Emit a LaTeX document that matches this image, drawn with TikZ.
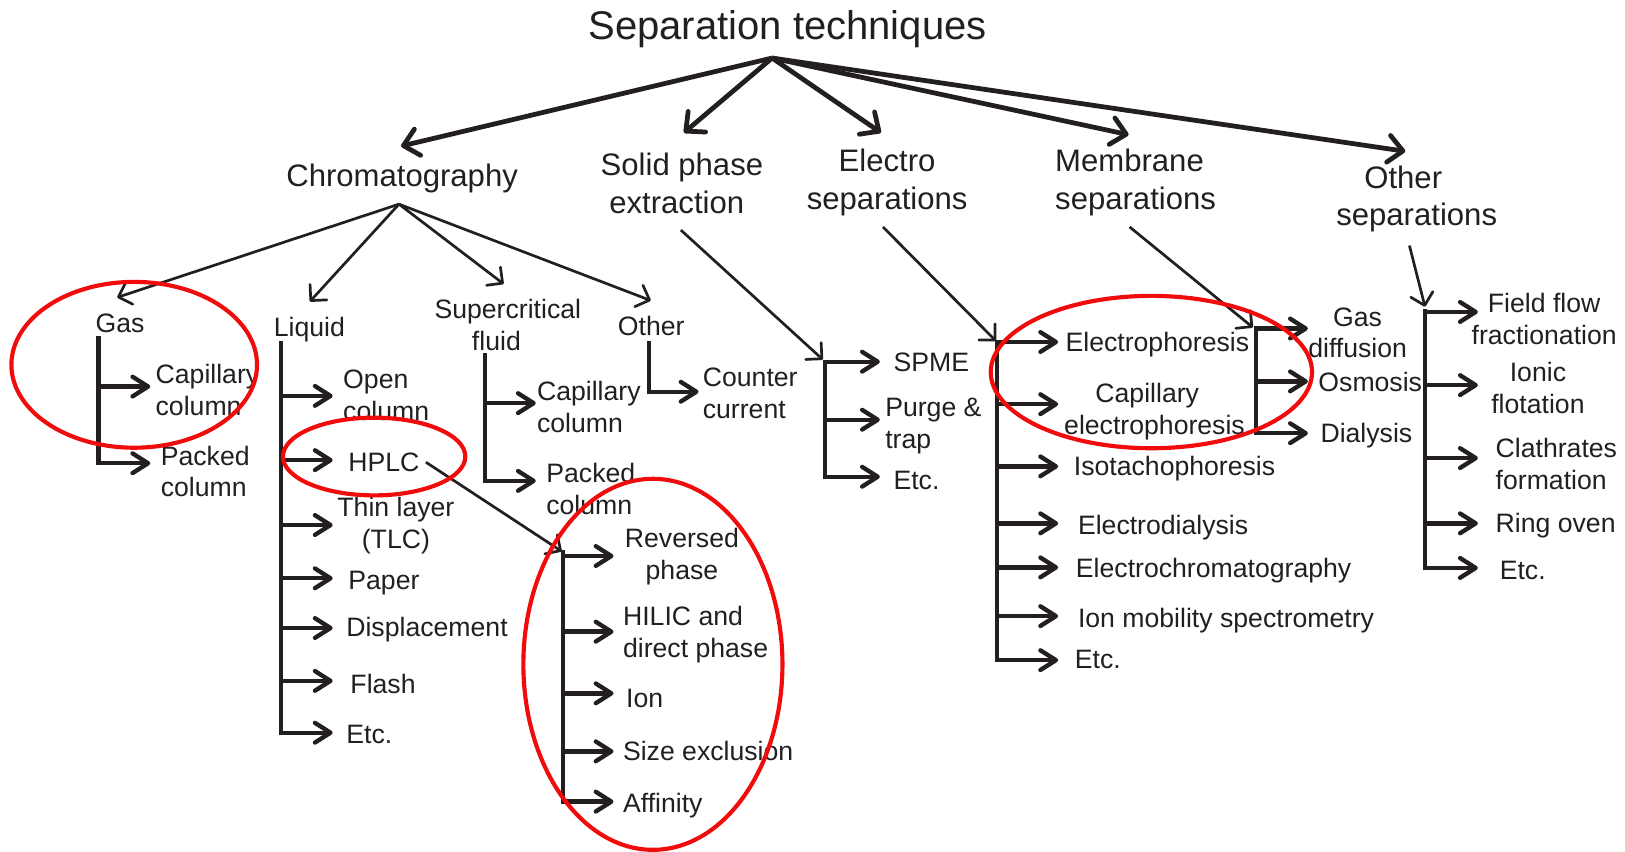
\documentclass[tikz,border=0pt]{standalone}
\usepackage{fontspec}
\setmainfont{Liberation Sans}
\usetikzlibrary{arrows.meta}
\definecolor{inkc}{RGB}{35,31,32}
\definecolor{hlred}{RGB}{240,12,12}
\newcommand\brk{\strut\\}
\begin{document}
\begin{tikzpicture}[x=1pt,y=-1pt,
  every node/.style={inner sep=0pt, text=inkc},
  big/.style={font=\fontsize{38.6}{46}\selectfont},
  midc/.style={font=\fontsize{30}{36.5}\selectfont, align=center},
  midl/.style={font=\fontsize{30}{36.5}\selectfont, align=left, anchor=west},
  sm/.style={font=\fontsize{25.7}{30.7}\selectfont, align=left, anchor=west},
  smc/.style={font=\fontsize{25.7}{30.7}\selectfont, align=center},
  toparrow/.style={draw=inkc, line width=4.6pt, -{Straight Barb[length=14pt,width=26pt,round]}},
  thinarrow/.style={draw=inkc, line width=2.6pt, -{Straight Barb[length=11pt,width=22pt,round]}},
  spine/.style={draw=inkc, line width=4.2pt, line cap=rect},
  branch/.style={draw=inkc, line width=4.2pt, -{Straight Barb[length=15pt,width=19pt,round]}},
  ring/.style={draw=hlred, line width=4pt}
]
\useasboundingbox (0,0) rectangle (1568,822);

% ---------- level 0/1 ----------
\node[big, anchor=base] (title) at (760,38) {Separation techniques};
\coordinate (root) at (745,56);
\node[midc] (chrom) at (388,172.5) {Chromatography\strut};
\node[midc] (spe) at (658,180.5) {Solid phase\brk extraction\hspace*{10pt}\strut};
\node[midc] (elec) at (856,176.5) {Electro\brk separations\strut};
\node[midl] (memb) at (1018,176.5) {Membrane\brk separations\strut};
\node[midc] (oth) at (1367,192.5) {Other\hspace*{26pt}\brk separations\strut};

\coordinate (tChrom) at (387,141);
\coordinate (tSpe) at (660,128);
\coordinate (tElec) at (850,128);
\coordinate (tMemb) at (1089,130);
\coordinate (tOth) at (1356,146);
\draw[toparrow] (root) -- (tChrom);
\draw[toparrow] (root) -- (tSpe);
\draw[toparrow] (root) -- (tElec);
\draw[toparrow] (root) -- (tMemb);
\draw[toparrow] (root) -- (tOth);

% ---------- chromatography ----------
\coordinate (hub) at (385,197);
\coordinate (tGas) at (113,287);
\coordinate (tLiq) at (299,291);
\coordinate (tSfc) at (486,274);
\coordinate (tCo) at (628,290);
\draw[thinarrow] (hub) -- (tGas);
\draw[thinarrow] (hub) -- (tLiq);
\draw[thinarrow] (hub) -- (tSfc);
\draw[thinarrow] (hub) -- (tCo);

\node[sm] (gas) at (92,315) {Gas\strut};
\node[sm] (liq) at (264,319) {Liquid\strut};
\node[smc] (sfc) at (490,317) {Supercritical\brk fluid\hspace*{22pt}\strut};
\node[sm] (cother) at (596,318) {Other\strut};

% gas
\node[sm] (gcap) at (150,379) {Capillary\brk column\strut};
\node[sm] (gpack) at (155,458) {Packed\brk column\strut};
\coordinate (gT) at (95,326);
\coordinate (gB) at (95,447);
\coordinate (g1) at (145,373);
\coordinate (g2) at (145,447);
\draw[spine] (gT) -- (gB);
\draw[branch] (gT |- g1) -- (g1);
\draw[branch] (gT |- g2) -- (g2);

% liquid
\node[sm] (lopen) at (331,384) {Open\brk column\strut};
\node[sm] (hplc) at (336,449) {HPLC\strut};
\node[smc] (tlc) at (382,508) {Thin layer\brk (TLC)\strut};
\node[sm] (paper) at (336,563) {Paper\strut};
\node[sm] (displ) at (334,608) {Displacement\strut};
\node[sm] (flash) at (338,663) {Flash\strut};
\node[sm] (letc) at (334,711) {Etc.\strut};
\coordinate (lT) at (271,331);
\coordinate (lB) at (271,707);
\draw[spine] (lT) -- (lB);
\foreach \yy/\nm in {382/l1,444/l2,506.6/l3,558/l4,606/l5,657/l6,707/l7}{
  \coordinate (\nm) at (321,\yy);
  \draw[branch] (lT |- \nm) -- (\nm);
}

% supercritical
\node[sm] (scap) at (518,395.5) {Capillary\brk column\strut};
\node[sm] (spack) at (527,475) {Packed\brk column\strut};
\coordinate (sT) at (468,343);
\coordinate (sB) at (468,464);
\draw[spine] (sT) -- (sB);
\foreach \yy/\nm in {389/s1,464/s2}{
  \coordinate (\nm) at (517,\yy);
  \draw[branch] (sT |- \nm) -- (\nm);
}

% other (chromatography)
\node[sm] (counter) at (678,382.5) {Counter\brk current\strut};
\coordinate (coT) at (626,331);
\coordinate (coB) at (626,378);
\coordinate (co1) at (674,378);
\draw[spine] (coT) -- (coB);
\draw[branch] (coB) -- (co1);

% HPLC subtree
\coordinate (hpS) at (411,446);
\coordinate (hpE) at (542,532);
\draw[thinarrow] (hpS) -- (hpE);
\node[smc] (rev) at (658,537.7) {Reversed\brk phase\strut};
\node[sm] (hilic) at (601,613) {HILIC and\brk direct phase\strut};
\node[sm] (ion) at (604,676.6) {Ion\strut};
\node[sm] (size) at (601,728) {Size exclusion\strut};
\node[sm] (aff) at (601,777.5) {Affinity\strut};
\coordinate (hT) at (543.5,533);
\coordinate (hB) at (543.5,773.5);
\draw[spine] (hT) -- (hB);
\foreach \yy/\nm in {536.5/h1,609.5/h2,669/h3,725/h4,773.5/h5}{
  \coordinate (\nm) at (592,\yy);
  \draw[branch] (hT |- \nm) -- (\nm);
}

% ---------- solid phase extraction ----------
\coordinate (speS) at (657,222);
\coordinate (speE) at (794,347);
\draw[thinarrow] (speS) -- (speE);
\node[sm] (spme) at (862,352) {SPME\strut};
\node[sm] (purge) at (854,411.5) {Purge \&\brk trap\strut};
\node[sm] (spetc) at (862,466) {Etc.\strut};
\coordinate (pT) at (796,349);
\coordinate (pB) at (796,460);
\draw[spine] (pT) -- (pB);
\foreach \yy/\nm in {349/p1,405/p2,460/p3}{
  \coordinate (\nm) at (849,\yy);
  \draw[branch] (pT |- \nm) -- (\nm);
}

% ---------- electro ----------
\coordinate (elS) at (852,219);
\coordinate (elE) at (961,329);
\draw[thinarrow] (elS) -- (elE);
\node[sm] (ep) at (1028,333) {Electrophoresis\strut};
\node[smc] (cep) at (1114,397.8) {Capillary\hspace*{14pt}\brk electrophoresis\strut};
\node[sm] (itp) at (1036,453) {Isotachophoresis\strut};
\node[sm] (edial) at (1040,509.6) {Electrodialysis\strut};
\node[sm] (ecc) at (1038,551.4) {Electrochromatography\strut};
\node[sm] (ims) at (1040,599.6) {Ion mobility spectrometry\strut};
\node[sm] (eetc) at (1037,639) {Etc.\strut};
\coordinate (eT) at (962,330);
\coordinate (eB) at (962,637);
\draw[spine] (eT) -- (eB);
\foreach \yy/\nm in {330/e1,390/e2,450/e3,505/e4,547.5/e5,594.5/e6,637/e7}{
  \coordinate (\nm) at (1021,\yy);
  \draw[branch] (eT |- \nm) -- (\nm);
}

% ---------- membrane ----------
\coordinate (mbS) at (1090,219);
\coordinate (mbE) at (1209,316);
\draw[thinarrow] (mbS) -- (mbE);
\node[smc] (gdiff) at (1310,323.8) {Gas\brk diffusion\strut};
\node[sm] (osm) at (1272,371.3) {Osmosis\strut};
\node[sm] (dial) at (1274,421) {Dialysis\strut};
\coordinate (mT) at (1212,317);
\coordinate (mB) at (1212,418);
\draw[spine] (mT) -- (mB);
\foreach \yy/\nm in {317/m1,368/m2,418/m3}{
  \coordinate (\nm) at (1262,\yy);
  \draw[branch] (mT |- \nm) -- (\nm);
}

% ---------- other separations ----------
\coordinate (otS) at (1360,237);
\coordinate (otE) at (1375,296);
\draw[thinarrow] (otS) -- (otE);
\node[smc] (fff) at (1490,311) {Field flow\brk fractionation\strut};
\node[smc] (ionic) at (1484,377.5) {Ionic\brk flotation\strut};
\node[sm] (clath) at (1443,450.5) {Clathrates\brk formation\strut};
\node[sm] (ring) at (1443,508) {Ring oven\strut};
\node[sm] (oetc) at (1447,553) {Etc.\strut};
\coordinate (oT) at (1375,300);
\coordinate (oB) at (1375,548);
\draw[spine] (oT) -- (oB);
\foreach \yy/\nm in {301/o1,371.6/o2,442/o3,505/o4,548/o5}{
  \coordinate (\nm) at (1426,\yy);
  \draw[branch] (oT |- \nm) -- (\nm);
}

% ---------- red highlight rings ----------
\draw[ring] (129.5,352) ellipse [x radius=118.5, y radius=80];
\draw[ring] (361,440.5) ellipse [x radius=88, y radius=37.5];
\draw[ring] (630,641) ellipse [x radius=125, y radius=179];
\draw[ring] (1111,359) ellipse [x radius=155, y radius=73.5];
\end{tikzpicture}
\end{document}
